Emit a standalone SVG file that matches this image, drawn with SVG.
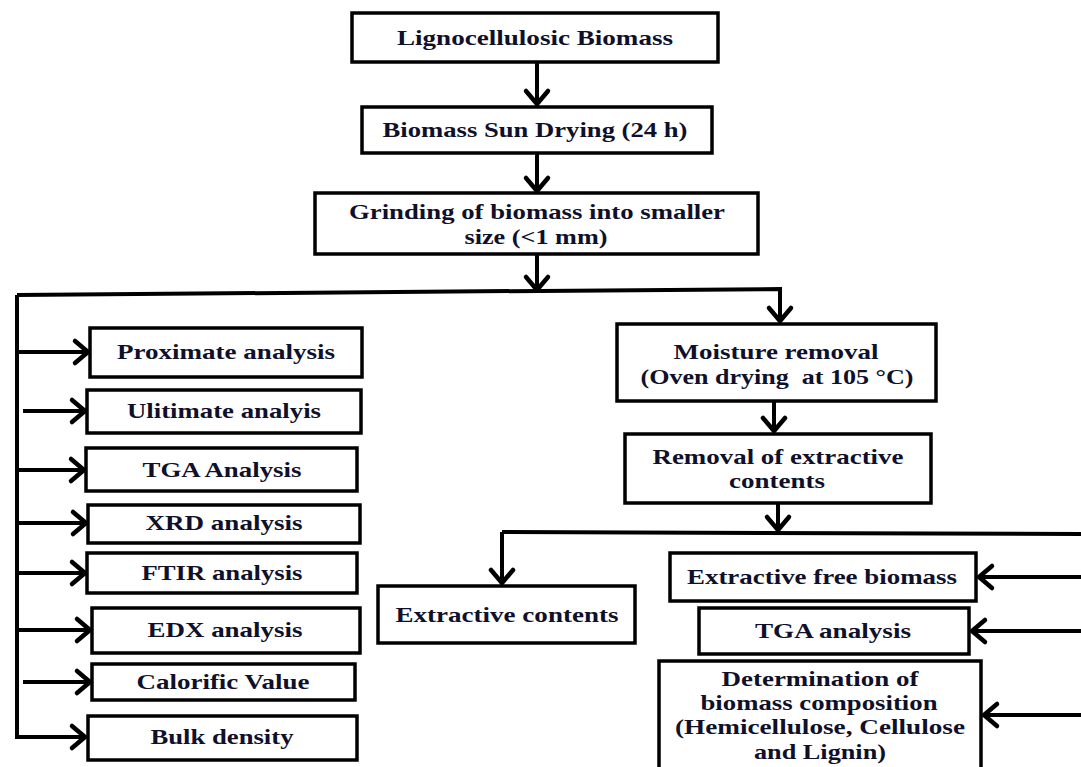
<svg xmlns="http://www.w3.org/2000/svg" width="1081" height="767" viewBox="0 0 1081 767">
  <defs>
    <marker id="arrow" markerUnits="userSpaceOnUse" markerWidth="30" markerHeight="30" viewBox="-20 -15 24 30" refX="0" refY="0" orient="auto" overflow="visible">
      <path d="M-14,-11 L-1,0 L-14,11" fill="none" stroke="#000" stroke-width="4.5" stroke-linecap="round" stroke-linejoin="round"/>
    </marker>
    <style>
      .box { fill: #fff; stroke: #000; stroke-width: 3.5; }
      .lbl { font-family: "Liberation Serif", "Times New Roman", serif; font-weight: bold; font-size: 21px; fill: #10102a; text-anchor: middle; }
      .con { fill: none; stroke: #000; stroke-width: 4; }
      .arr { fill: none; stroke: #000; stroke-width: 4; marker-end: url(#arrow); }
    </style>
  </defs>
  <rect width="1081" height="767" fill="#fff"/>

  <!-- connectors -->
  <g id="connectors">
    <path class="arr" d="M537,62 L537,105"/>
    <path class="arr" d="M537,153 L537,192"/>
    <path class="arr" d="M537,254 L537,291"/>
    <path class="arr" d="M17,295 L780,289 L780,322"/>
    <path class="arr" d="M17,295 L17,737 L86,737"/>
    <path class="arr" d="M17,352 L89,352"/>
    <path class="arr" d="M23,411 L86,411"/>
    <path class="arr" d="M17,470 L85,470"/>
    <path class="arr" d="M17,523 L87,523"/>
    <path class="arr" d="M17,573 L86,573"/>
    <path class="arr" d="M17,630 L91,630"/>
    <path class="arr" d="M23,682 L91,682"/>
    <path class="arr" d="M774,401 L774,432"/>
    <path class="arr" d="M778,503 L778,531"/>
    <path class="con" d="M1081,534 L502,532"/>
    <path class="arr" d="M502,532 L502,584"/>
    <path class="arr" d="M1081,577 L978,577"/>
    <path class="arr" d="M1081,631 L971,631"/>
    <path class="arr" d="M1081,715 L983,715"/>
  </g>

  <g id="lignocellulosic-biomass">
    <rect class="box" x="352" y="13" width="366" height="49"/>
    <text class="lbl" x="535" y="45" textLength="276" lengthAdjust="spacingAndGlyphs">Lignocellulosic Biomass</text>
  </g>
  <g id="sun-drying">
    <rect class="box" x="362" y="107" width="350" height="46"/>
    <text class="lbl" x="535" y="137" textLength="305" lengthAdjust="spacingAndGlyphs">Biomass Sun Drying (24 h)</text>
  </g>
  <g id="grinding">
    <rect class="box" x="315" y="193" width="443" height="61"/>
    <text class="lbl" x="537" y="219" textLength="376" lengthAdjust="spacingAndGlyphs">Grinding of biomass into smaller</text>
    <text class="lbl" x="536" y="244" textLength="143" lengthAdjust="spacingAndGlyphs">size (&lt;1 mm)</text>
  </g>

  <g id="proximate">
    <rect class="box" x="90" y="328" width="272" height="49"/>
    <text class="lbl" x="226" y="359" textLength="218" lengthAdjust="spacingAndGlyphs">Proximate analysis</text>
  </g>
  <g id="ultimate">
    <rect class="box" x="87" y="390" width="274" height="43"/>
    <text class="lbl" x="224" y="418" textLength="194" lengthAdjust="spacingAndGlyphs">Ulitimate analyis</text>
  </g>
  <g id="tga-left">
    <rect class="box" x="86" y="448" width="271" height="43"/>
    <text class="lbl" x="222" y="477" textLength="159" lengthAdjust="spacingAndGlyphs">TGA Analysis</text>
  </g>
  <g id="xrd">
    <rect class="box" x="88" y="505" width="272" height="38"/>
    <text class="lbl" x="224" y="530" textLength="157" lengthAdjust="spacingAndGlyphs">XRD analysis</text>
  </g>
  <g id="ftir">
    <rect class="box" x="87" y="553" width="270" height="40"/>
    <text class="lbl" x="222" y="580" textLength="161" lengthAdjust="spacingAndGlyphs">FTIR analysis</text>
  </g>
  <g id="edx">
    <rect class="box" x="92" y="608" width="268" height="45"/>
    <text class="lbl" x="225" y="637" textLength="155" lengthAdjust="spacingAndGlyphs">EDX analysis</text>
  </g>
  <g id="calorific">
    <rect class="box" x="92" y="664" width="263" height="36"/>
    <text class="lbl" x="223" y="689" textLength="173" lengthAdjust="spacingAndGlyphs">Calorific Value</text>
  </g>
  <g id="bulk-density">
    <rect class="box" x="88" y="716" width="269" height="44"/>
    <text class="lbl" x="222" y="744" textLength="143" lengthAdjust="spacingAndGlyphs">Bulk density</text>
  </g>

  <g id="moisture-removal">
    <rect class="box" x="617" y="324" width="319" height="77"/>
    <text class="lbl" x="776" y="359" textLength="205" lengthAdjust="spacingAndGlyphs">Moisture removal</text>
    <text class="lbl" x="777" y="384" textLength="273" lengthAdjust="spacingAndGlyphs" xml:space="preserve">(Oven drying  at 105 °C)</text>
  </g>
  <g id="extractive-removal">
    <rect class="box" x="625" y="434" width="306" height="69"/>
    <text class="lbl" x="778" y="464" textLength="251" lengthAdjust="spacingAndGlyphs">Removal of extractive</text>
    <text class="lbl" x="777" y="488" textLength="96" lengthAdjust="spacingAndGlyphs">contents</text>
  </g>
  <g id="extractive-contents">
    <rect class="box" x="378" y="586" width="257" height="57"/>
    <text class="lbl" x="507" y="622" textLength="223" lengthAdjust="spacingAndGlyphs">Extractive contents</text>
  </g>
  <g id="extractive-free">
    <rect class="box" x="670" y="553" width="306" height="48"/>
    <text class="lbl" x="822" y="584" textLength="270" lengthAdjust="spacingAndGlyphs">Extractive free biomass</text>
  </g>
  <g id="tga-right">
    <rect class="box" x="699" y="608" width="270" height="46"/>
    <text class="lbl" x="833" y="638" textLength="156" lengthAdjust="spacingAndGlyphs">TGA analysis</text>
  </g>
  <g id="composition">
    <rect class="box" x="659" y="661" width="322" height="112"/>
    <text class="lbl" x="820" y="686" textLength="197" lengthAdjust="spacingAndGlyphs">Determination of</text>
    <text class="lbl" x="819" y="710" textLength="237" lengthAdjust="spacingAndGlyphs">biomass composition</text>
    <text class="lbl" x="820" y="734" textLength="290" lengthAdjust="spacingAndGlyphs">(Hemicellulose, Cellulose</text>
    <text class="lbl" x="820" y="759" textLength="132" lengthAdjust="spacingAndGlyphs">and Lignin)</text>
  </g>
</svg>
